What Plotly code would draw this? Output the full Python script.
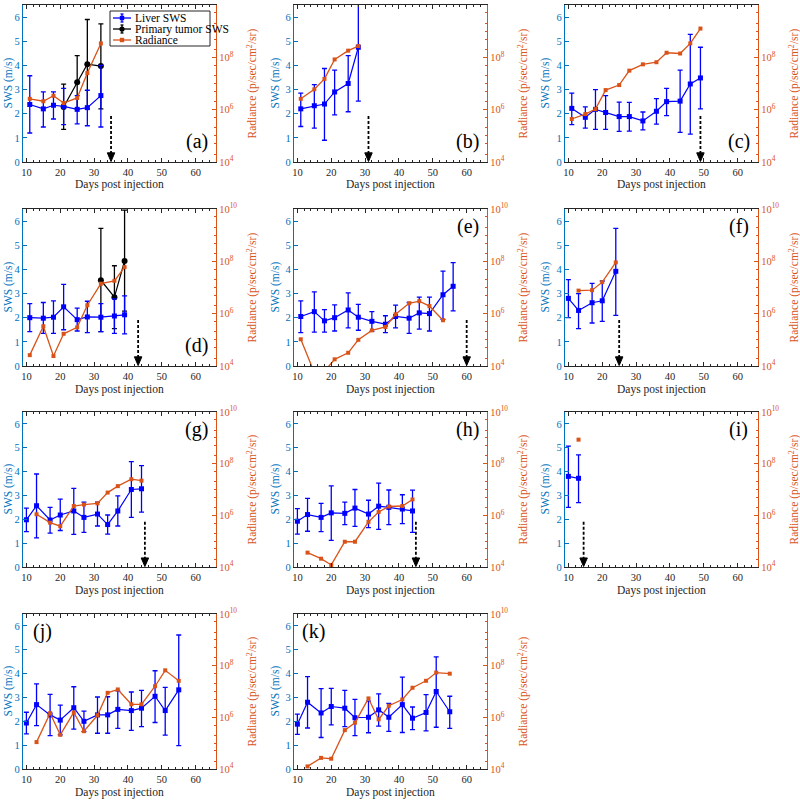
import plotly.graph_objects as go

FONT = "Liberation Serif"
AX_BLUE = "#0072BD"
ORANGE = "#D95319"
LIVER = "#0000FF"
TUMOR = "#000000"
DARK = "#262626"

# ---------------- data ----------------
# (a)
a_days = [11, 15, 18, 21, 25, 28, 32]
a_liver = [2.38, 2.2, 2.35, 2.3, 2.18, 2.25, 2.75]
a_liver_lo = [1.2, 1.45, 1.78, 1.55, 1.58, 1.5, 1.45]
a_liver_hi = [3.57, 2.9, 2.9, 3.05, 2.75, 2.97, 4.0]
a_tumor_days = [21, 25, 28, 32]
a_tumor = [2.28, 3.3, 4.05, 3.97]
a_tumor_lo = [1.35, 2.2, 2.2, 2.2]
a_tumor_hi = [3.22, 4.4, 5.9, 5.72]
a_rad_days = [11, 15, 18, 21, 25, 28, 32]
a_rad = [2.6e6, 2.1e6, 3.4e6, 1.8e6, 2.8e6, 2.5e7, 3.4e8]

# (b)
b_days = [11, 15, 18, 21, 25, 28]
b_liver = [2.2, 2.33, 2.4, 2.9, 3.25, 4.75]
b_liver_lo = [1.47, 1.4, 0.9, 1.95, 2.08, 2.52]
b_liver_hi = [2.85, 3.2, 3.87, 3.8, 4.4, 7.0]
b_rad_days = [11, 15, 18, 21, 25, 28]
b_rad = [2.6e6, 6.0e6, 1.5e7, 8.3e7, 1.8e8, 2.7e8]

# (c)
c_days = [11, 15, 18, 21, 25, 28, 32, 36, 39, 43, 46, 49]
c_liver = [2.22, 1.85, 2.18, 2.05, 1.88, 1.88, 1.7, 2.1, 2.5, 2.52, 3.23, 3.48]
c_liver_lo = [1.55, 1.4, 1.35, 1.35, 1.27, 1.28, 1.33, 1.57, 1.92, 1.23, 1.15, 2.2]
c_liver_hi = [2.85, 2.28, 3.0, 2.75, 2.48, 2.47, 2.07, 2.62, 3.05, 3.8, 5.28, 4.75]
c_rad_days = [11, 15, 18, 21, 25, 28, 32, 36, 39, 43, 46, 49]
c_rad = [4.4e5, 6.8e5, 1.05e6, 5.6e6, 8.7e6, 3.1e7, 5.4e7, 6.5e7, 1.5e8, 1.4e8, 3.4e8, 1.26e9]

# (d)
d_days = [11, 15, 18, 21, 25, 28, 32, 36, 39]
d_liver = [2.0, 1.98, 2.02, 2.45, 1.92, 2.03, 2.02, 2.07, 2.12]
d_liver_lo = [1.42, 1.35, 1.35, 1.5, 1.45, 1.38, 1.42, 1.35, 1.33]
d_liver_hi = [2.58, 2.63, 2.7, 3.38, 2.4, 2.68, 2.58, 2.78, 2.9]
d_tumor_days = [32, 36, 39]
d_tumor = [3.55, 2.85, 4.35]
d_tumor_lo = [1.42, 1.55, 2.27]
d_tumor_hi = [5.7, 4.15, 6.45]
d_rad_days = [11, 15, 18, 21, 25, 28, 32, 36, 39]
d_rad = [2.6e4, 3.3e5, 2.4e4, 1.7e5, 3.0e5, 2.1e6, 1.4e7, 1.8e7, 6.0e7]

# (e)
e_days = [11, 15, 18, 21, 25, 28, 32, 36, 39, 43, 46, 49, 53, 56]
e_liver = [2.05, 2.25, 1.87, 2.0, 2.32, 2.02, 1.85, 1.73, 2.05, 1.98, 2.2, 2.17, 2.95, 3.3]
e_liver_lo = [1.38, 1.4, 1.4, 1.45, 1.58, 1.48, 1.43, 1.38, 1.58, 1.35, 1.53, 1.45, 1.93, 2.28]
e_liver_hi = [2.7, 3.07, 2.33, 2.53, 3.03, 2.55, 2.25, 2.08, 2.52, 2.63, 2.85, 2.85, 3.93, 4.28]
e_rad_days = [11, 15, 18, 21, 25, 28, 32, 36, 39, 43, 46, 49, 53]
e_rad = [1.05e5, 5.6e3, 6.3e3, 1.8e4, 3.2e4, 1.0e5, 2.3e5, 3.1e5, 9.5e5, 2.5e6, 3.0e6, 1.95e6, 5.6e5]

# (f)
f_days = [10, 13, 17, 20, 24]
f_liver = [2.8, 2.3, 2.62, 2.7, 3.92]
f_liver_lo = [2.0, 1.55, 1.78, 1.85, 2.1]
f_liver_hi = [3.58, 3.0, 3.42, 3.52, 5.7]
f_rad_days = [13, 17, 20, 24]
f_rad = [7.6e6, 7.9e6, 1.6e7, 9.1e7]

# (g)
g_days = [10, 13, 17, 20, 24, 27, 31, 34, 37, 41, 44]
g_liver = [1.98, 2.57, 1.97, 2.18, 2.35, 2.08, 2.22, 1.78, 2.35, 3.25, 3.28]
g_liver_lo = [1.48, 1.22, 1.42, 1.53, 1.37, 1.45, 1.72, 1.38, 1.72, 2.08, 2.3]
g_liver_hi = [2.47, 3.9, 2.5, 2.85, 3.3, 2.72, 2.72, 2.18, 2.98, 4.42, 4.25]
g_rad_days = [13, 17, 20, 24, 27, 31, 34, 37, 41, 44]
g_rad = [1.1e6, 5.2e5, 3.8e5, 2.3e6, 2.6e6, 2.9e6, 7.6e6, 1.35e7, 2.5e7, 2.2e7]

# (h)
h_days = [10, 13, 17, 20, 24, 27, 31, 34, 37, 41, 44]
h_liver = [1.92, 2.2, 2.08, 2.27, 2.25, 2.47, 2.22, 2.55, 2.5, 2.43, 2.35]
h_liver_lo = [1.38, 1.5, 1.48, 1.12, 1.78, 1.7, 1.65, 1.58, 1.78, 1.82, 1.45]
h_liver_hi = [2.45, 2.88, 2.67, 3.4, 2.72, 3.25, 2.8, 3.52, 3.23, 3.03, 3.22]
h_rad_days = [13, 17, 20, 24, 27, 31, 34, 37, 41, 44]
h_rad = [3.6e4, 2.1e4, 1.2e4, 9.5e4, 9.5e4, 5.6e5, 1.35e6, 2.2e6, 2.3e6, 4.1e6]

# (i)
i_days = [10, 13]
i_liver = [3.8, 3.72]
i_liver_lo = [2.5, 2.7]
i_liver_hi = [5.07, 4.7]
i_rad_days = [13]
i_rad = [8.5e8]

# (j)
j_days = [10, 13, 17, 20, 24, 27, 31, 34, 37, 41, 44, 48, 51, 55]
j_liver = [1.93, 2.7, 2.27, 2.05, 2.57, 2.0, 2.27, 2.27, 2.5, 2.45, 2.55, 3.05, 2.45, 3.32]
j_liver_lo = [1.47, 1.82, 1.4, 1.43, 1.67, 1.57, 1.5, 1.5, 1.7, 1.62, 1.78, 1.95, 1.42, 0.98]
j_liver_hi = [2.38, 3.57, 3.13, 2.68, 3.45, 2.43, 3.02, 3.03, 3.28, 3.23, 3.3, 4.12, 3.42, 5.62]
j_rad_days = [13, 17, 20, 24, 27, 31, 34, 37, 41, 44, 48, 51, 55]
j_rad = [1.1e5, 1.45e6, 2.1e5, 1.55e6, 2.9e5, 1.2e6, 8.9e6, 1.2e7, 3.2e6, 3.2e6, 1.6e7, 6.6e7, 2.6e7]

# (k)
k_days = [10, 13, 17, 20, 24, 27, 31, 34, 37, 41, 44, 48, 51, 55]
k_liver = [1.88, 2.8, 2.35, 2.62, 2.55, 2.15, 2.17, 2.48, 2.17, 2.7, 2.13, 2.37, 3.25, 2.4]
k_liver_lo = [1.45, 1.72, 1.32, 1.85, 1.78, 1.4, 1.52, 1.8, 1.58, 1.53, 1.65, 1.6, 1.75, 1.7]
k_liver_hi = [2.3, 3.87, 3.37, 3.38, 3.3, 2.92, 2.85, 3.15, 2.75, 3.85, 2.6, 3.12, 4.7, 3.05]
k_rad_days = [13, 17, 20, 24, 27, 31, 34, 37, 41, 44, 48, 51, 55]
k_rad = [1.26e4, 2.7e4, 2.5e4, 3.2e5, 6.2e5, 5.4e6, 8.3e5, 2.8e6, 4.9e6, 1.4e7, 2.6e7, 5.4e7, 4.9e7]

panel_labels = ["(a)", "(b)", "(c)", "(d)", "(e)", "(f)", "(g)", "(h)", "(i)", "(j)", "(k)"]
arrow_days = [35, 31, 49, 43, 60, 25, 45, 45, 14.5, None, None]
legend_names = ["Liver SWS", "Primary tumor SWS", "Radiance"]
x_title = "Days post injection"
sws_title = "SWS (m/s)"
rad_title = "Radiance (p/sec/cm<sup>2</sup>/sr)"
x_ticks = [10, 20, 30, 40, 50, 60]
sws_ticks = [0, 1, 2, 3, 4, 5, 6]
rad_ticks = [1e4, 1e6, 1e8, 1e10]
rad_ticktext = ["10<sup>4</sup>", "10<sup>6</sup>", "10<sup>8</sup>", "10<sup>10</sup>"]

# ---------------- assemble ----------------
panels = [
    (a_days, a_liver, a_liver_lo, a_liver_hi, a_rad_days, a_rad, (a_tumor_days, a_tumor, a_tumor_lo, a_tumor_hi)),
    (b_days, b_liver, b_liver_lo, b_liver_hi, b_rad_days, b_rad, None),
    (c_days, c_liver, c_liver_lo, c_liver_hi, c_rad_days, c_rad, None),
    (d_days, d_liver, d_liver_lo, d_liver_hi, d_rad_days, d_rad, (d_tumor_days, d_tumor, d_tumor_lo, d_tumor_hi)),
    (e_days, e_liver, e_liver_lo, e_liver_hi, e_rad_days, e_rad, None),
    (f_days, f_liver, f_liver_lo, f_liver_hi, f_rad_days, f_rad, None),
    (g_days, g_liver, g_liver_lo, g_liver_hi, g_rad_days, g_rad, None),
    (h_days, h_liver, h_liver_lo, h_liver_hi, h_rad_days, h_rad, None),
    (i_days, i_liver, i_liver_lo, i_liver_hi, i_rad_days, i_rad, None),
    (j_days, j_liver, j_liver_lo, j_liver_hi, j_rad_days, j_rad, None),
    (k_days, k_liver, k_liver_lo, k_liver_hi, k_rad_days, k_rad, None),
]

W = H = 800
col_px = [(23, 216), (294, 487), (565, 758)]
row_px = [(5, 162), (209, 366), (412, 567), (614, 769)]
left_title_off = [15, 19, 20]
right_title_off = 36
x_title_off = 23
label_pos = [(0.9, 0.13), (0.9, 0.13), (0.9, 0.13), (0.9, 0.13),
             (0.9, 0.89), (0.9, 0.89), (0.9, 0.89), (0.9, 0.89), (0.9, 0.89),
             (0.1, 0.89), (0.1, 0.89)]

TICK_SIZE = 10.5
TITLE_SIZE = 11.5

fig = go.Figure()
layout = {}
annotations = []
shapes = []


def ax_key(kind, n):
    return f"{kind}axis" if n == 1 else f"{kind}axis{n}"


def ax_ref(kind, n):
    return kind if n == 1 else f"{kind}{n}"


for p, (days, liver, lo, hi, rdays, rad, tumor) in enumerate(panels):
    r, c = divmod(p, 3)
    xn = p + 1
    yl = 2 * p + 1
    yr = 2 * p + 2
    xr, ylr, yrr = ax_ref("x", xn), ax_ref("y", yl), ax_ref("y", yr)
    x0, x1 = col_px[c][0] / W, col_px[c][1] / W
    y0, y1 = 1 - row_px[r][1] / H, 1 - row_px[r][0] / H

    # radiance (right, log)
    fig.add_trace(go.Scatter(
        x=rdays, y=rad, xaxis=xr, yaxis=yrr, mode="lines+markers", name="Radiance",
        line=dict(color=ORANGE, width=1.3), marker=dict(color=ORANGE, symbol="square", size=4),
        showlegend=False))
    # tumor
    if tumor is not None:
        td, tv, tlo, thi = tumor
        fig.add_trace(go.Scatter(
            x=td, y=tv, xaxis=xr, yaxis=ylr, mode="lines+markers", name="Primary tumor SWS",
            line=dict(color=TUMOR, width=1.2), marker=dict(color=TUMOR, symbol="circle", size=6),
            error_y=dict(type="data", symmetric=False,
                         array=[h_ - v for h_, v in zip(thi, tv)],
                         arrayminus=[v - l for l, v in zip(tlo, tv)],
                         color=TUMOR, thickness=1.3, width=2.5),
            showlegend=False))
    # liver
    fig.add_trace(go.Scatter(
        x=days, y=liver, xaxis=xr, yaxis=ylr, mode="lines+markers", name="Liver SWS",
        line=dict(color=LIVER, width=1.2), marker=dict(color=LIVER, symbol="square", size=5),
        error_y=dict(type="data", symmetric=False,
                     array=[h_ - v for h_, v in zip(hi, liver)],
                     arrayminus=[v - l for l, v in zip(lo, liver)],
                     color=LIVER, thickness=1.3, width=2.5),
        showlegend=False))

    layout[ax_key("x", xn)] = dict(
        domain=[x0, x1], anchor=ylr, range=[9, 66], tickvals=x_ticks, automargin=False,
        ticks="inside", ticklen=4, tickcolor=DARK, showline=True, linecolor=DARK,
        mirror="ticks", showgrid=False, zeroline=False,
        minor=dict(dtick=2, ticks="inside", ticklen=2, tickcolor=DARK),
        tickfont=dict(family=FONT, size=TICK_SIZE, color=DARK),
    )
    layout[ax_key("y", yl)] = dict(
        domain=[y0, y1], anchor=xr, range=[0, 6.5], tickvals=sws_ticks, automargin=False,
        ticks="inside", ticklen=4, tickcolor=AX_BLUE, showline=True, linecolor=AX_BLUE, linewidth=1.2,
        showgrid=False, zeroline=False,
        tickfont=dict(family=FONT, size=TICK_SIZE, color=AX_BLUE),
    )
    layout[ax_key("y", yr)] = dict(
        domain=[y0, y1], anchor=xr, overlaying=ylr, side="right", type="log", range=[4, 10],
        tickvals=rad_ticks, ticktext=rad_ticktext, automargin=False,
        ticks="inside", ticklen=4, tickcolor=ORANGE, showline=True, linecolor=ORANGE, linewidth=1.2,
        showgrid=False, zeroline=False,
        minor=dict(ticks="inside", ticklen=2, tickcolor=ORANGE, showgrid=False),
        tickfont=dict(family=FONT, size=TICK_SIZE, color=ORANGE),
    )

    # axis titles as annotations for exact placement
    px_l, px_r = col_px[c]
    py_t, py_b = row_px[r]
    cy = (py_t + py_b) / 2
    annotations.append(dict(text=x_title, xref="paper", yref="paper",
                            x=(px_l + px_r) / 2 / W, y=1 - (py_b + x_title_off) / H,
                            xanchor="center", yanchor="middle", showarrow=False,
                            font=dict(family=FONT, size=TITLE_SIZE, color=DARK)))
    annotations.append(dict(text=sws_title, xref="paper", yref="paper", textangle=-90,
                            x=(px_l - left_title_off[c]) / W, y=1 - cy / H,
                            xanchor="center", yanchor="middle", showarrow=False,
                            font=dict(family=FONT, size=TITLE_SIZE, color=AX_BLUE)))
    annotations.append(dict(text=rad_title, xref="paper", yref="paper", textangle=-90,
                            x=(px_r + right_title_off) / W, y=1 - cy / H,
                            xanchor="center", yanchor="middle", showarrow=False,
                            font=dict(family=FONT, size=TITLE_SIZE, color=ORANGE)))

    lx, ly = label_pos[p]
    annotations.append(dict(
        text=panel_labels[p], xref=f"{xr} domain", yref=f"{ylr} domain", x=lx, y=ly,
        xanchor="center", yanchor="middle", showarrow=False,
        font=dict(family=FONT, size=20, color="black")))

    ad = arrow_days[p]
    if ad is not None:
        shapes.append(dict(type="line", xref=xr, yref=ylr, x0=ad, x1=ad, y0=1.9, y1=0.35,
                           line=dict(color="black", width=1.8, dash="3px,2px")))
        shapes.append(dict(type="path", xref=xr, yref=ylr, fillcolor="black",
                           line=dict(color="black", width=1),
                           path=f"M {ad - 1.1} 0.38 L {ad + 1.1} 0.38 L {ad} 0.02 Z"))

# ---- legend (drawn inside panel (a)) ----
lg_x0, lg_x1, lg_y0, lg_y1 = 110, 210, 11, 46
shapes.append(dict(type="rect", xref="paper", yref="paper",
                   x0=lg_x0 / W, x1=lg_x1 / W, y0=1 - lg_y1 / H, y1=1 - lg_y0 / H,
                   line=dict(color=DARK, width=1), fillcolor="white", layer="above"))
legend_colors = [LIVER, TUMOR, ORANGE]
for k_, (nm, colr) in enumerate(zip(legend_names, legend_colors)):
    yy = lg_y0 + 7 + k_ * 11
    shapes.append(dict(type="line", xref="paper", yref="paper", layer="above",
                       x0=113 / W, x1=131 / W, y0=1 - yy / H, y1=1 - yy / H,
                       line=dict(color=colr, width=1.3)))
    if k_ < 2:
        shapes.append(dict(type="line", xref="paper", yref="paper", layer="above",
                           x0=122 / W, x1=122 / W, y0=1 - (yy + 4) / H, y1=1 - (yy - 4) / H,
                           line=dict(color=colr, width=1.3)))
        for cyy in (yy - 4, yy + 4):
            shapes.append(dict(type="line", xref="paper", yref="paper", layer="above",
                               x0=120.5 / W, x1=123.5 / W, y0=1 - cyy / H, y1=1 - cyy / H,
                               line=dict(color=colr, width=1.3)))
    ms = 2.2 if k_ != 1 else 2.6
    shapes.append(dict(type="rect" if k_ != 1 else "circle", xref="paper", yref="paper", layer="above",
                       x0=(122 - ms) / W, x1=(122 + ms) / W, y0=1 - (yy + ms) / H, y1=1 - (yy - ms) / H,
                       fillcolor=colr, line=dict(color=colr, width=0)))
    annotations.append(dict(text=nm, xref="paper", yref="paper", x=133 / W, y=1 - yy / H,
                            xanchor="left", yanchor="middle", showarrow=False,
                            font=dict(family=FONT, size=11.5, color="black")))

fig.update_layout(
    width=W, height=H,
    margin=dict(l=0, r=0, t=0, b=0, autoexpand=False),
    plot_bgcolor="white", paper_bgcolor="white",
    font=dict(family=FONT, size=12),
    showlegend=False,
    annotations=annotations, shapes=shapes,
    **layout,
)

fig.write_html("out.html", config={"displayModeBar": False},
               post_script="document.body.style.margin='0';document.body.style.padding='0';")
